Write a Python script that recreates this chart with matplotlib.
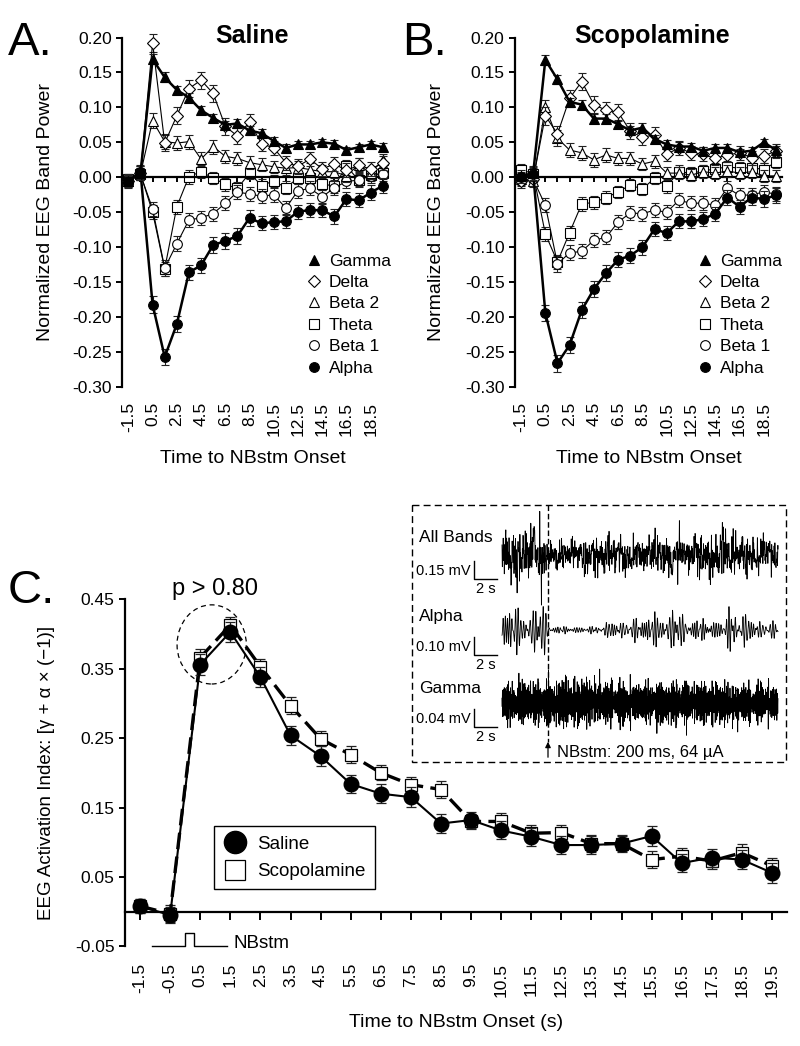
import numpy as np
import matplotlib
matplotlib.use('Agg')
import matplotlib.pyplot as plt
from matplotlib.lines import Line2D
from matplotlib.patches import Ellipse, Rectangle

plt.rcParams['font.family'] = ['Liberation Sans', 'DejaVu Sans']
plt.rcParams['axes.unicode_minus'] = False

# ---------------- data ----------------
time = [-1.5, -0.5, 0.5, 1.5, 2.5, 3.5, 4.5, 5.5, 6.5, 7.5, 8.5, 9.5,
        10.5, 11.5, 12.5, 13.5, 14.5, 15.5, 16.5, 17.5, 18.5, 19.5]
band_names = ['Gamma', 'Delta', 'Beta 2', 'Theta', 'Beta 1', 'Alpha']

# Panel A: Saline
gamma_sal = [-0.006, 0.006, 0.169, 0.143, 0.125, 0.114, 0.096, 0.085, 0.075, 0.077, 0.067, 0.063,
             0.052, 0.042, 0.047, 0.047, 0.050, 0.048, 0.039, 0.043, 0.047, 0.043]
delta_sal = [-0.005, 0.006, 0.192, 0.049, 0.088, 0.127, 0.139, 0.120, 0.073, 0.059, 0.079, 0.048,
             0.042, 0.021, 0.016, 0.026, 0.012, 0.019, 0.010, 0.017, 0.012, 0.020]
beta2_sal = [-0.005, 0.005, 0.081, 0.051, 0.049, 0.051, 0.026, 0.044, 0.030, 0.027, 0.021, 0.018,
             0.015, 0.013, 0.014, 0.011, 0.008, 0.008, 0.002, 0.018, 0.006, 0.025]
theta_sal = [-0.003, 0.005, -0.050, -0.131, -0.042, 0.001, 0.008, -0.001, -0.010, -0.016, 0.006, -0.012,
             -0.005, -0.015, -0.001, -0.001, -0.009, -0.013, 0.016, -0.004, 0.003, 0.006]
beta1_sal = [-0.004, 0.004, -0.045, -0.130, -0.095, -0.061, -0.058, -0.052, -0.037, -0.021, -0.024, -0.027,
             -0.025, -0.044, -0.019, -0.016, -0.028, -0.015, -0.006, -0.004, 0.002, 0.005]
alpha_sal = [-0.005, 0.008, -0.182, -0.257, -0.210, -0.136, -0.126, -0.097, -0.091, -0.084, -0.058, -0.066,
             -0.064, -0.063, -0.049, -0.047, -0.047, -0.056, -0.031, -0.033, -0.022, -0.012]

# Panel B: Scopolamine
gamma_sco = [0.002, 0.006, 0.168, 0.140, 0.108, 0.104, 0.084, 0.084, 0.076, 0.067, 0.071, 0.055,
             0.047, 0.044, 0.044, 0.038, 0.042, 0.042, 0.036, 0.038, 0.050, 0.039]
delta_sco = [-0.005, -0.003, 0.088, 0.062, 0.113, 0.137, 0.104, 0.096, 0.093, 0.066, 0.057, 0.061,
             0.033, 0.042, 0.035, 0.033, 0.027, 0.032, 0.035, 0.028, 0.030, 0.038]
beta2_sco = [-0.003, -0.005, 0.100, 0.056, 0.039, 0.035, 0.025, 0.032, 0.027, 0.027, 0.019, 0.023,
             0.006, 0.006, 0.003, 0.008, 0.006, 0.009, 0.006, 0.008, 0.002, 0.002]
theta_sco = [0.011, 0.005, -0.081, -0.121, -0.079, -0.038, -0.036, -0.029, -0.021, -0.011, -0.017, -0.001,
             -0.013, 0.008, 0.006, 0.009, 0.012, 0.015, 0.013, 0.014, 0.011, 0.022]
beta1_sco = [-0.003, -0.003, -0.040, -0.124, -0.108, -0.106, -0.090, -0.086, -0.064, -0.051, -0.052, -0.047,
             -0.050, -0.033, -0.037, -0.037, -0.040, -0.015, -0.026, -0.025, -0.021, -0.024]
alpha_sco = [0.000, 0.005, -0.194, -0.266, -0.240, -0.190, -0.160, -0.137, -0.118, -0.112, -0.100, -0.074,
             -0.080, -0.063, -0.063, -0.060, -0.052, -0.029, -0.042, -0.029, -0.031, -0.026]

# SEM
sem_gamma = [0.008, 0.010, 0.007, 0.007, 0.006, 0.006, 0.006, 0.006, 0.006, 0.006, 0.006, 0.006,
             0.006, 0.006, 0.005, 0.005, 0.005, 0.005, 0.005, 0.005, 0.005, 0.006]
sem_delta = [0.010, 0.010, 0.013, 0.012, 0.012, 0.012, 0.012, 0.012, 0.012, 0.011, 0.011, 0.011,
             0.010, 0.010, 0.010, 0.010, 0.010, 0.010, 0.010, 0.010, 0.010, 0.010]
sem_beta2 = [0.009, 0.009, 0.011, 0.011, 0.010, 0.010, 0.010, 0.010, 0.009, 0.009, 0.009, 0.009,
             0.009, 0.009, 0.009, 0.009, 0.009, 0.009, 0.009, 0.009, 0.009, 0.009]
sem_theta = [0.008, 0.008, 0.010, 0.010, 0.010, 0.010, 0.009, 0.009, 0.009, 0.009, 0.009, 0.009,
             0.009, 0.009, 0.009, 0.009, 0.009, 0.009, 0.009, 0.009, 0.009, 0.009]
sem_beta1 = [0.008, 0.008, 0.010, 0.011, 0.011, 0.010, 0.010, 0.010, 0.010, 0.010, 0.010, 0.010,
             0.010, 0.010, 0.010, 0.010, 0.010, 0.010, 0.010, 0.010, 0.010, 0.010]
sem_alpha = [0.008, 0.010, 0.012, 0.012, 0.012, 0.011, 0.011, 0.012, 0.011, 0.011, 0.011, 0.010,
             0.010, 0.010, 0.010, 0.010, 0.010, 0.011, 0.010, 0.010, 0.011, 0.011]

# Panel C: activation index
sal_C = [0.008, -0.005, 0.356, 0.403, 0.338, 0.254, 0.224, 0.184, 0.170, 0.165, 0.127, 0.132,
         0.117, 0.108, 0.096, 0.096, 0.098, 0.109, 0.070, 0.078, 0.075, 0.056]
sco_C = [0.008, -0.003, 0.366, 0.413, 0.353, 0.297, 0.249, 0.226, 0.200, 0.183, 0.176, 0.130,
         0.130, 0.113, 0.114, 0.098, 0.098, 0.075, 0.080, 0.073, 0.085, 0.066]
sem_sal_C = [0.010, 0.012, 0.015, 0.014, 0.015, 0.014, 0.014, 0.013, 0.014, 0.014, 0.014, 0.012,
             0.013, 0.013, 0.013, 0.013, 0.012, 0.014, 0.013, 0.013, 0.014, 0.014]
sem_sco_C = [0.010, 0.012, 0.012, 0.012, 0.011, 0.012, 0.011, 0.012, 0.011, 0.011, 0.012, 0.011,
             0.012, 0.012, 0.011, 0.012, 0.011, 0.012, 0.012, 0.012, 0.012, 0.012]

xlabelsAB = [-1.5, 0.5, 2.5, 4.5, 6.5, 8.5, 10.5, 12.5, 14.5, 16.5, 18.5]
yticksAB = [0.20, 0.15, 0.10, 0.05, 0.00, -0.05, -0.10, -0.15, -0.20, -0.25, -0.30]
yticksC = [-0.05, 0.05, 0.15, 0.25, 0.35, 0.45]

# ---------------- styling ----------------
styles = {
    'Gamma': dict(marker='^', mfc='black', ms=7.5, lw=1.8, z=6),
    'Delta': dict(marker='D', mfc='white', ms=6.0, lw=0.8, z=4),
    'Beta 2': dict(marker='^', mfc='white', ms=7.5, lw=0.8, z=3),
    'Theta': dict(marker='s', mfc='white', ms=6.5, lw=0.8, z=2),
    'Beta 1': dict(marker='o', mfc='white', ms=7.0, lw=0.8, z=2.5),
    'Alpha': dict(marker='o', mfc='black', ms=7.0, lw=1.8, z=5),
}

fig = plt.figure(figsize=(8, 10.46), dpi=100)
W, H = 800.0, 1046.0


def fig_rect(x0, y0, x1, y1):
    return [x0 / W, 1 - y1 / H, (x1 - x0) / W, (y1 - y0) / H]


def noclip(container):
    container.lines[0].set_clip_on(False)
    for art in container.lines[1]:
        art.set_clip_on(False)
    for art in container.lines[2]:
        art.set_clip_on(False)


def zero_line_axes(ax, xticks_all, xlabels, pad, ticklen, fs):
    ax.spines['top'].set_visible(False)
    ax.spines['right'].set_visible(False)
    ax.spines['bottom'].set_position(('data', 0))
    ax.spines['bottom'].set_linewidth(1.6)
    ax.spines['left'].set_linewidth(1.6)
    ax.set_xticks(xticks_all)
    ax.tick_params(axis='x', direction='out', length=ticklen, width=1.4, labelbottom=False)
    ax.tick_params(axis='y', direction='out', length=4.5, width=1.4, labelsize=fs, pad=3)
    sec = ax.secondary_xaxis('bottom')
    sec.spines['bottom'].set_visible(False)
    sec.set_xticks(xlabels)
    sec.set_xticklabels([f'{v:.1f}' for v in xlabels], rotation=90, fontsize=fs)
    sec.tick_params(axis='x', length=0, pad=pad)
    return sec


def band_panel(rect, series, xlim, title_x, title, legend_x):
    ax = fig.add_axes(rect)
    ax.set_xlim(*xlim)
    ax.set_ylim(-0.30, 0.20)
    sems = {'Gamma': sem_gamma, 'Delta': sem_delta, 'Beta 2': sem_beta2,
            'Theta': sem_theta, 'Beta 1': sem_beta1, 'Alpha': sem_alpha}
    for name in ['Theta', 'Beta 1', 'Beta 2', 'Delta', 'Alpha', 'Gamma']:
        st = styles[name]
        c = ax.errorbar(time, series[name], yerr=sems[name], marker=st['marker'], ms=st['ms'],
                        mfc=st['mfc'], mec='black', mew=0.8, color='black', lw=st['lw'],
                        ecolor='#222222', elinewidth=0.8, capsize=3, capthick=0.8, zorder=st['z'])
        noclip(c)
    zero_line_axes(ax, time, xlabelsAB, pad=10.5, ticklen=3.5, fs=12.5)
    ax.set_yticks(yticksAB)
    ax.set_yticklabels([f'{v:.2f}' for v in yticksAB])
    ax.set_ylabel('Normalized EEG Band Power', fontsize=14)
    ax.yaxis.set_label_coords(-0.262, 0.5)
    ax.set_xlabel('Time to NBstm Onset', fontsize=14)
    ax.xaxis.set_label_coords(0.5, -0.18)
    handles = [Line2D([], [], ls='none', marker=styles[n]['marker'], ms=styles[n]['ms'],
                      mfc=styles[n]['mfc'], mec='black', mew=0.8) for n in band_names]
    ax.legend(handles, band_names, loc='upper left', bbox_to_anchor=(legend_x, 0.382),
              frameon=False, fontsize=12.5, handlelength=1.0, handletextpad=0.35,
              labelspacing=0.36, borderpad=0, borderaxespad=0)
    fig.text(title_x / W, 1 - 43 / H, title, fontsize=18, fontweight='bold',
             ha='center', va='baseline')
    return ax


series_sal = {'Gamma': gamma_sal, 'Delta': delta_sal, 'Beta 2': beta2_sal,
              'Theta': theta_sal, 'Beta 1': beta1_sal, 'Alpha': alpha_sal}
series_sco = {'Gamma': gamma_sco, 'Delta': delta_sco, 'Beta 2': beta2_sco,
              'Theta': theta_sco, 'Beta 1': beta1_sco, 'Alpha': alpha_sco}

axA = band_panel(fig_rect(122.3, 37.5, 384, 387), series_sal, (-2.0, 19.6), 252, 'Saline', 0.700)
axB = band_panel(fig_rect(515, 37.5, 782, 387), series_sco, (-2.0, 20.0), 652, 'Scopolamine', 0.680)

fig.text(8 / W, 1 - 55 / H, 'A.', fontsize=34, va='baseline')
fig.text(402 / W, 1 - 55 / H, 'B.', fontsize=34, va='baseline')
fig.text(8 / W, 1 - 603 / H, 'C.', fontsize=34, va='baseline')

# ---------------- panel C ----------------
axC = fig.add_axes(fig_rect(125, 599.3, 787, 946.4))
axC.set_xlim(-2.0, 20.0)
axC.set_ylim(-0.05, 0.45)
c1 = axC.errorbar(time, sco_C, yerr=sem_sco_C, marker='s', ms=9, mfc='white', mec='black', mew=0.9,
                  color='black', lw=2.4, ls=(0, (5, 2.2)), ecolor='#222222', elinewidth=0.9,
                  capsize=3.5, capthick=0.9, zorder=3)
c2 = axC.errorbar(time, sal_C, yerr=sem_sal_C, marker='o', ms=10.5, mfc='black', mec='black',
                  color='black', lw=1.5, ecolor='#222222', elinewidth=0.9, capsize=3.5,
                  capthick=0.9, zorder=4)
noclip(c1)
noclip(c2)
zero_line_axes(axC, time, time, pad=12, ticklen=5.5, fs=12.5)
axC.set_yticks(yticksC)
axC.set_yticklabels([f'{v:.2f}' for v in yticksC])
axC.set_ylabel('EEG Activation Index: [\u03b3 + \u03b1 \u00d7 (\u22121)]', fontsize=13.5)
axC.yaxis.set_label_coords(-0.106, 0.5)
axC.set_xlabel('Time to NBstm Onset (s)', fontsize=14)
axC.xaxis.set_label_coords(0.5, -0.195)

leg_handles = [Line2D([], [], ls='none', marker='o', ms=16, mfc='black', mec='black'),
               Line2D([], [], ls='none', marker='s', ms=14, mfc='white', mec='black', mew=0.9)]
legC = axC.legend(leg_handles, ['Saline', 'Scopolamine'], loc='lower left',
                  bbox_to_anchor=(0.134, 0.164), borderaxespad=0, fontsize=13.5,
                  fancybox=False, framealpha=1, edgecolor='black', handlelength=1.3,
                  handletextpad=0.5, borderpad=0.5, labelspacing=0.55)
legC.get_frame().set_linewidth(1.0)

# stimulus pulse
axC.plot([-1.1, 0.0, 0.0, 0.3, 0.3, 1.4], [-0.05, -0.05, -0.031, -0.031, -0.05, -0.05],
         color='black', lw=1.0, clip_on=False, zorder=5)
axC.text(1.6, -0.046, 'NBstm', fontsize=13.5, va='center', ha='left')
axC.text(1.0, 0.456, 'p > 0.80', fontsize=17, ha='center', va='baseline', clip_on=False)
axC.add_patch(Ellipse((0.88, 0.385), 2.3, 0.114, fill=False, ls=(0, (4, 3)), lw=0.9,
                      color='black', zorder=6))

# ---------------- inset with EEG traces ----------------
axI = fig.add_axes(fig_rect(412, 505, 786, 762))
axI.set_xlim(412, 786)
axI.set_ylim(762, 505)
axI.axis('off')
axI.add_patch(Rectangle((412, 505), 374, 257, fill=False, ls=(0, (5, 3)), lw=1.0,
                        color='black', clip_on=False))

# amplitude envelopes (x in px, half-amplitude in px)
env_all_x = [502, 520, 545, 550, 580, 600, 640, 660, 690, 720, 740, 778]
env_all_v = [30, 32, 34, 16, 18, 24, 18, 24, 22, 30, 24, 18]
env_alpha_x = [502, 515, 545, 550, 590, 620, 650, 670, 690, 720, 730, 750, 778]
env_alpha_v = [30, 24, 26, 4, 5, 10, 16, 24, 12, 14, 32, 12, 9]
env_gamma_x = [502, 540, 560, 600, 640, 680, 720, 778]
env_gamma_v = [24, 26, 30, 27, 24, 26, 25, 22]

freq_all = [7, 13, 19, 29, 41, 53, 67, 79, 89, 101, 113, 127, 151, 173, 191, 211, 227, 251, 263,
            283, 307, 331, 353, 379, 401, 431, 457]
freq_alpha = [79, 83, 89, 91, 97, 101, 103, 107, 109, 113, 127, 131, 137]
freq_gamma = [211, 233, 263, 281, 307, 331, 353, 379, 401, 421, 449, 479, 503, 523, 557, 587,
              601, 631, 653]


def trace(freqs, ex, ev, yc):
    xs = np.linspace(502, 778, 4000)
    s = np.zeros_like(xs)
    for k, f in enumerate(freqs):
        s += np.sin(2 * np.pi * f * (xs - 502) / 276.0 + 2.39996 * k * k)
    s = s / (2.6 * s.std())
    env = np.interp(xs, ex, ev)
    axI.plot(xs, yc + s * env, color='black', lw=0.6, clip_on=False)


trace(freq_all, env_all_x, env_all_v, 555)
trace(freq_alpha, env_alpha_x, env_alpha_v, 630)
trace(freq_gamma, env_gamma_x, env_gamma_v, 703)

axI.plot([548, 548], [505, 742], color='black', lw=1.0, ls=(0, (4, 2)))
axI.annotate('', xy=(548, 739), xytext=(548, 760),
             arrowprops=dict(arrowstyle='-|>', color='black', lw=0.9, mutation_scale=8))
axI.text(557, 753, 'NBstm: 200 ms, 64 \u00b5A', fontsize=12, va='center', ha='left')

for lab, ylab, mv, ybar in [('All Bands', 538, '0.15 mV', 579),
                            ('Alpha', 617, '0.10 mV', 655),
                            ('Gamma', 689, '0.04 mV', 727)]:
    axI.text(419, ylab, lab, fontsize=12.5, va='center', ha='left')
    axI.text(416, ybar - 8, mv, fontsize=10.5, va='center', ha='left')
    axI.plot([474, 474, 497], [ybar - 18, ybar, ybar], color='black', lw=1.0)
    axI.text(486, ybar + 10, '2 s', fontsize=10.5, va='center', ha='center')

fig.savefig('out.png', dpi=100)
